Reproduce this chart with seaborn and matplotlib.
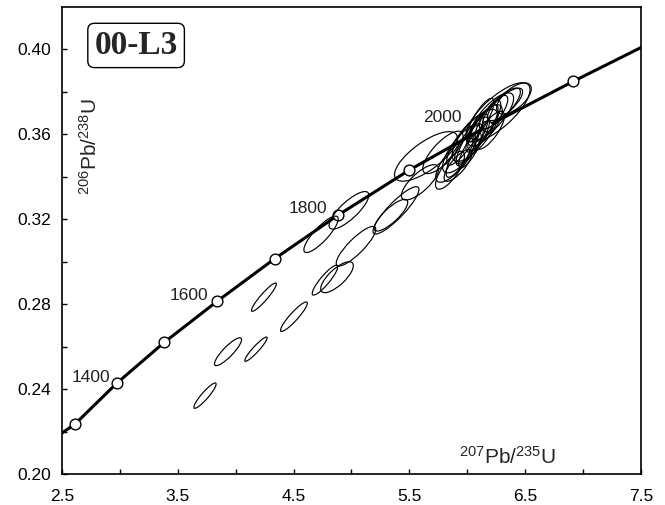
import matplotlib
matplotlib.use('Agg')
import matplotlib.pyplot as plt
import seaborn as sns
import pandas as pd
from matplotlib.patches import Ellipse
from matplotlib.transforms import Affine2D

# Concordia curve (ends of the axes + age marks)
curve_x = [2.50, 2.612, 2.974, 3.383, 3.841, 4.339, 4.883, 5.497, 6.170, 6.913, 7.50]
curve_y = [0.2193, 0.2235, 0.2428, 0.2620, 0.2814, 0.3015, 0.3219, 0.3431, 0.3638, 0.3849, 0.4009]

# age marks (Ma)
mark_age = [1300, 1400, 1500, 1600, 1700, 1800, 1900, 2000, 2100]
mark_x = [2.612, 2.974, 3.383, 3.841, 4.339, 4.883, 5.497, 6.170, 6.913]
mark_y = [0.2235, 0.2428, 0.2620, 0.2814, 0.3015, 0.3219, 0.3431, 0.3638, 0.3849]
label_ages = [1400, 1600, 1800, 2000]
label_offsets = [(-5, 0.7), (-6.5, 0.7), (-8, 1.4), (-18, 3)]

# error ellipses: centre, major / minor axis (in 207Pb/235U units), tilt (deg on the page)
ell_x = [3.735, 3.934, 4.175, 4.244, 4.503, 4.875, 4.771, 4.737, 4.978, 5.039, 5.341, 5.384,
         5.643, 5.592, 5.790, 6.265, 6.403,
         5.851, 5.894, 5.937, 5.963, 6.006, 6.041, 6.066, 6.092, 6.127, 6.153,
         6.179, 6.213, 6.239, 6.282, 6.023, 5.980, 6.110, 6.196, 5.920, 6.326]
ell_y = [0.2369, 0.2576, 0.2588, 0.2833, 0.2741, 0.2927, 0.2913, 0.3129, 0.3242, 0.3073, 0.3219, 0.3242,
         0.3496, 0.3374, 0.3515, 0.3704, 0.3769,
         0.3431, 0.3478, 0.3501, 0.3534, 0.3548, 0.3572, 0.3595, 0.3609, 0.3628, 0.3642,
         0.3666, 0.3685, 0.3704, 0.3722, 0.3525, 0.3572, 0.3666, 0.3619, 0.3454, 0.3741]
ell_len = [0.285, 0.324, 0.280, 0.320, 0.337, 0.363, 0.330, 0.415, 0.449, 0.466, 0.380, 0.553,
           0.648, 0.415, 0.475, 0.708, 0.363,
           0.389, 0.475, 0.432, 0.518, 0.389, 0.475, 0.561, 0.345, 0.475, 0.432,
           0.389, 0.518, 0.345, 0.475, 0.345, 0.518, 0.432, 0.389, 0.345, 0.389]
ell_wid = [0.060, 0.086, 0.052, 0.060, 0.070, 0.138, 0.078, 0.121, 0.147, 0.130, 0.121, 0.138,
           0.242, 0.155, 0.173, 0.259, 0.173,
           0.138, 0.173, 0.121, 0.190, 0.104, 0.155, 0.207, 0.104, 0.138, 0.173,
           0.121, 0.190, 0.121, 0.155, 0.104, 0.138, 0.121, 0.138, 0.121, 0.138]
ell_ang = [49, 46, 47.5, 49, 48, 43, 50, 47, 43, 45, 43, 46,
           36, 43, 47, 42, 40,
           55, 50, 60, 52, 62, 55, 50, 65, 58, 52,
           60, 48, 55, 45, 60, 55, 60, 55, 50, 42]

sns.set_theme(style='ticks')
plt.rcParams['font.family'] = ['Liberation Sans', 'DejaVu Sans']
plt.rcParams['mathtext.default'] = 'regular'

fig = plt.figure(figsize=(6.65, 5.05), dpi=100)
ax = fig.add_axes([0.0932, 0.0614, 0.8707, 0.9248])
ax.set_xlim(2.5, 7.5)
ax.set_ylim(0.20, 0.42)

# scale so ellipses can be given in page-true shape
bbox = ax.get_position()
px_x = bbox.width * fig.get_figwidth() / 5.0
px_y = bbox.height * fig.get_figheight() / 0.22
k = px_y / px_x
tr = Affine2D().scale(1, 1 / k) + ax.transData
for x, y, L, W, a in zip(ell_x, ell_y, ell_len, ell_wid, ell_ang):
    ax.add_patch(Ellipse((x, y * k), L, W, angle=a, transform=tr,
                         fill=False, ec='black', lw=0.85, zorder=5))

curve = pd.DataFrame({'x': curve_x, 'y': curve_y})
sns.lineplot(data=curve, x='x', y='y', color='black', lw=2.2, estimator=None, ax=ax, zorder=3)
marks = pd.DataFrame({'age': mark_age, 'x': mark_x, 'y': mark_y})
sns.scatterplot(data=marks, x='x', y='y', s=60, color='white', edgecolor='black',
                linewidth=1.0, ax=ax, zorder=4)

for age, off in zip(label_ages, label_offsets):
    i = mark_age.index(age)
    ax.annotate(str(age), (mark_x[i], mark_y[i]), xytext=off, textcoords='offset points',
                ha='right', va='baseline', fontsize=12.5, color='#222222')

ax.set_xticks([2.5, 3.5, 4.5, 5.5, 6.5, 7.5])
ax.set_xticklabels(['2.5', '3.5', '4.5', '5.5', '6.5', '7.5'])
ax.set_xticks([3.0, 4.0, 5.0, 6.0, 7.0], minor=True)
ax.set_yticks([0.20, 0.24, 0.28, 0.32, 0.36, 0.40])
ax.set_yticklabels(['0.20', '0.24', '0.28', '0.32', '0.36', '0.40'])
ax.set_yticks([0.22, 0.26, 0.30, 0.34, 0.38], minor=True)
ax.tick_params(axis='both', which='both', direction='in', length=3.5, width=1.0,
               labelsize=12.5, colors='black')
ax.tick_params(axis='x', which='major', pad=10.5)
ax.tick_params(axis='y', which='major', pad=8)
for s in ax.spines.values():
    s.set_visible(True)
    s.set_linewidth(1.2)
    s.set_color('black')

ax.set_xlabel(r'$^{207}$Pb/$^{235}$U', fontsize=15, va='center')
ax.xaxis.set_label_coords(0.77, 0.036)
ax.set_ylabel(r'$^{206}$Pb/$^{238}$U', fontsize=15, va='center')
ax.yaxis.set_label_coords(0.048, 0.702)

ax.text(0.128, 0.9176, '00-L3', transform=ax.transAxes, ha='center', va='center',
        fontsize=24, fontweight='bold', family=['Liberation Serif', 'DejaVu Serif'],
        bbox=dict(boxstyle='round,pad=0.2', fc='white', ec='black', lw=1.0))

fig.savefig('out.png', dpi=100)
